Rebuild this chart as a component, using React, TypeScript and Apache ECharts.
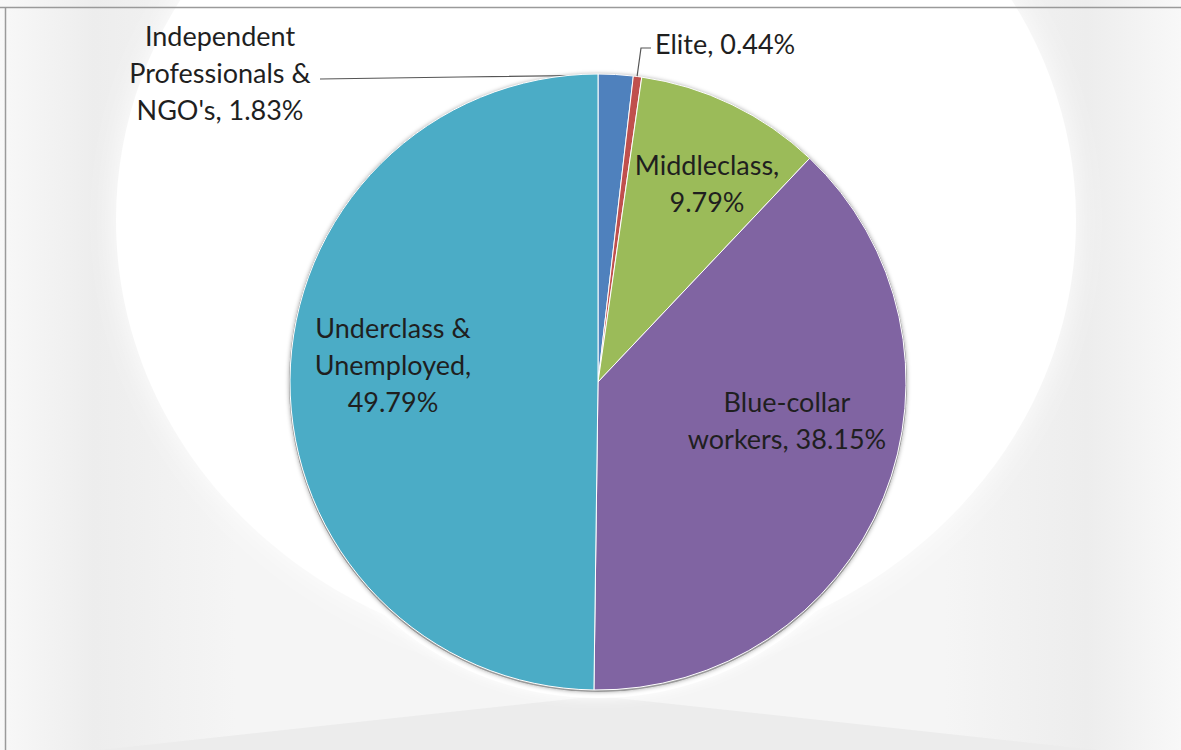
import React, { useEffect, useRef } from "react";
import * as echarts from "echarts";

const categories = [
  "Independent Professionals & NGO's",
  "Elite",
  "Middleclass",
  "Blue-collar workers",
  "Underclass & Unemployed",
];
const labelTexts = [
  "Independent\nProfessionals &\nNGO's, 1.83%",
  "Elite, 0.44%",
  "Middleclass,\n9.79%",
  "Blue-collar\nworkers, 38.15%",
  "Underclass &\nUnemployed,\n49.79%",
];
const values = [1.83, 0.44, 9.79, 38.15, 49.79];
const colors = ["#4F81BD", "#C0504D", "#9BBB59", "#8064A2", "#4BACC6"];

const CX = 598;
const CY = 382;
const R = 308;

// label anchor positions (layout)
const labelPos: { x: number; y: number; align: string; line?: number[][] }[] = [
  { x: 220, y: 72, align: "center", line: [[616, 75], [460, 77], [320, 79]] },
  { x: 655, y: 43, align: "left", line: [[637, 77], [641, 48], [651, 48]] },
  { x: 707, y: 183, align: "center" },
  { x: 787, y: 420, align: "center" },
  { x: 393, y: 364, align: "center" },
];

export default function App() {
  const ref = useRef<HTMLDivElement>(null);
  useEffect(() => {
    document.body.style.margin = "0";
    if (!ref.current) return;
    const chart = echarts.init(ref.current, null, { renderer: "svg" });
    chart.setOption({
      animation: false,
      backgroundColor: "#ffffff",
      graphic: [
        {
          type: "rect",
          z: -10,
          silent: true,
          shape: { x: 0, y: 0, width: 1181, height: 750 },
          style: {
            fill: new echarts.graphic.LinearGradient(0, 0, 1, 0, [
              { offset: 0, color: "#f8f8f8" },
              { offset: 0.08, color: "#ededed" },
              { offset: 0.2, color: "#f5f5f5" },
              { offset: 0.8, color: "#f5f5f5" },
              { offset: 0.92, color: "#ededed" },
              { offset: 1, color: "#f8f8f8" },
            ]),
          },
        },
        {
          type: "polygon",
          z: -10,
          silent: true,
          shape: { points: [[100, 750], [598, 696], [1096, 750]] },
          style: { fill: "#ececec" },
        },
        {
          type: "ellipse",
          z: -9,
          silent: true,
          shape: { cx: 596, cy: 220, rx: 480, ry: 440 },
          style: { fill: "#ffffff", shadowBlur: 30, shadowColor: "rgba(255,255,255,0.9)" },
        },
        {
          type: "circle",
          z: -9,
          silent: true,
          shape: { cx: CX, cy: CY, r: R + 8 },
          style: { fill: "#ffffff", shadowBlur: 12, shadowColor: "rgba(255,255,255,1)" },
        },
        {
          type: "circle",
          z: -8,
          silent: true,
          shape: { cx: CX, cy: CY + 1, r: R + 1 },
          style: { fill: "#9a9a9a", shadowBlur: 4, shadowColor: "rgba(0,0,0,0.35)" },
        },
        {
          type: "line",
          z: 10,
          silent: true,
          shape: { x1: 0, y1: 7.5, x2: 1181, y2: 7.5 },
          style: { stroke: "#9a9a9a", lineWidth: 1.5 },
        },
        {
          type: "line",
          z: 10,
          silent: true,
          shape: { x1: 5.5, y1: 7.5, x2: 5.5, y2: 750 },
          style: { stroke: "#9a9a9a", lineWidth: 1.5 },
        },
      ],
      series: [
        {
          type: "pie",
          center: [CX, CY],
          radius: [0, R],
          startAngle: 90,
          clockwise: true,
          avoidLabelOverlap: false,
          itemStyle: { borderColor: "#ffffff", borderWidth: 1 },
          label: {
            show: true,
            position: "outside",
            fontFamily: "Lato",
            fontSize: 27,
            lineHeight: 37,
            color: "#1f1f1f",
          },
          labelLine: {
            show: true,
            lineStyle: { color: "#555555", width: 1.2 },
          },
          labelLayout: (params: any) => {
            const p = labelPos[params.dataIndex];
            const res: any = {
              x: p.x,
              y: p.y,
              align: p.align,
              verticalAlign: "middle",
            };
            if (p.line) res.labelLinePoints = p.line;
            return res;
          },
          data: categories.map((name, i) => ({
            name,
            value: values[i],
            itemStyle: { color: colors[i] },
            label: { formatter: labelTexts[i] },
            labelLine: { show: i < 2 },
          })),
        },
      ],
    });
    return () => chart.dispose();
  }, []);
  return <div ref={ref} style={{ width: 1181, height: 750 }} />;
}
